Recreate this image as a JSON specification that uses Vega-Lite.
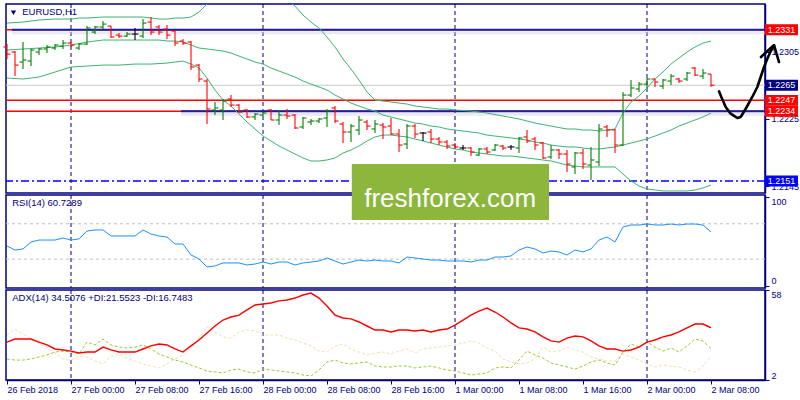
{
  "$schema": "https://vega.github.io/schema/vega-lite/v6.json",
  "background": "white",
  "padding": {"left": 2, "top": 2, "right": 0, "bottom": 0},
  "bounds": "flush",
  "spacing": 2,
  "config": {
    "view": {"stroke": "#000080", "strokeWidth": 1.5},
    "font": "Liberation Sans",
    "axis": {"labelFont": "Liberation Sans", "labelFontSize": 9, "labelColor": "#000080", "tickColor": "#000080", "domainColor": "#000080", "domainWidth": 1.5, "tickSize": 4, "labelPadding": 2, "grid": false, "labelOverlap": false, "labelFlush": false}
  },
  "resolve": {"scale": {"x": "independent", "y": "independent", "color": "independent"}},
  "datasets": {
    "bars": [
      {"i":0,"o":1.23105,"h":1.2314,"l":1.22962,"c":1.23021,"bu":1.2339,"bm":1.23069,"bl":1.22736,"rsi":44.9,"adx":25.6,"pdi":15.1,"mdi":30},
      {"i":1,"o":1.23045,"h":1.23057,"l":1.22759,"c":1.2289,"bu":1.23396,"bm":1.23075,"bl":1.2273,"rsi":40.3,"adx":27.5,"pdi":14.4,"mdi":33.7},
      {"i":2,"o":1.22926,"h":1.23164,"l":1.22843,"c":1.2295,"bu":1.23402,"bm":1.23081,"bl":1.22724,"rsi":41.5,"adx":27.5,"pdi":14.4,"mdi":30.6},
      {"i":3,"o":1.22938,"h":1.23081,"l":1.22878,"c":1.23069,"bu":1.23414,"bm":1.23087,"bl":1.22736,"rsi":49.4,"adx":27.5,"pdi":15.1,"mdi":27.5},
      {"i":4,"o":1.23045,"h":1.23093,"l":1.23009,"c":1.23081,"bu":1.23426,"bm":1.23093,"bl":1.22748,"rsi":51.6,"adx":25.6,"pdi":16.3,"mdi":24.4},
      {"i":5,"o":1.23081,"h":1.23128,"l":1.23033,"c":1.23105,"bu":1.23432,"bm":1.23099,"bl":1.22777,"rsi":51.6,"adx":23.8,"pdi":17.6,"mdi":22.5},
      {"i":6,"o":1.23093,"h":1.2314,"l":1.23069,"c":1.23128,"bu":1.23438,"bm":1.23105,"bl":1.22807,"rsi":51.6,"adx":21.3,"pdi":19.4,"mdi":18.8},
      {"i":7,"o":1.23116,"h":1.23188,"l":1.23081,"c":1.23152,"bu":1.23438,"bm":1.23116,"bl":1.22837,"rsi":53.9,"adx":20.7,"pdi":20,"mdi":15.1},
      {"i":8,"o":1.23152,"h":1.23164,"l":1.23105,"c":1.23128,"bu":1.23438,"bm":1.23128,"bl":1.22867,"rsi":51.6,"adx":20,"pdi":19.4,"mdi":14.4},
      {"i":9,"o":1.23093,"h":1.23152,"l":1.23069,"c":1.2314,"bu":1.2345,"bm":1.23146,"bl":1.22873,"rsi":52.8,"adx":18.8,"pdi":18.2,"mdi":16.9},
      {"i":10,"o":1.2314,"h":1.23354,"l":1.23128,"c":1.23331,"bu":1.2345,"bm":1.23164,"bl":1.22878,"rsi":61.8,"adx":19.4,"pdi":25.6,"mdi":16.3},
      {"i":11,"o":1.23283,"h":1.23354,"l":1.23259,"c":1.23343,"bu":1.23456,"bm":1.23176,"bl":1.22884,"rsi":63,"adx":19.4,"pdi":23.8,"mdi":13.8},
      {"i":12,"o":1.23343,"h":1.23414,"l":1.23319,"c":1.23378,"bu":1.23462,"bm":1.23188,"bl":1.2289,"rsi":63,"adx":22.5,"pdi":27.5,"mdi":12},
      {"i":13,"o":1.23354,"h":1.23354,"l":1.23212,"c":1.23224,"bu":1.23462,"bm":1.23188,"bl":1.2289,"rsi":56.2,"adx":20.7,"pdi":23.8,"mdi":16.9},
      {"i":14,"o":1.23247,"h":1.23271,"l":1.23212,"c":1.23235,"bu":1.23462,"bm":1.23188,"bl":1.2289,"rsi":56.2,"adx":19.4,"pdi":22.5,"mdi":18.2},
      {"i":15,"o":1.23235,"h":1.23283,"l":1.23224,"c":1.23259,"bu":1.23462,"bm":1.23188,"bl":1.22896,"rsi":56.2,"adx":19.4,"pdi":21.9,"mdi":15.7},
      {"i":16,"o":1.23259,"h":1.23331,"l":1.23188,"c":1.23259,"bu":1.23462,"bm":1.23188,"bl":1.22902,"rsi":56.2,"adx":19.4,"pdi":22.5,"mdi":13.8},
      {"i":17,"o":1.23235,"h":1.23438,"l":1.23212,"c":1.2339,"bu":1.23462,"bm":1.23188,"bl":1.22902,"rsi":63,"adx":21.3,"pdi":23.8,"mdi":12},
      {"i":18,"o":1.23402,"h":1.23462,"l":1.23247,"c":1.23283,"bu":1.2345,"bm":1.23188,"bl":1.22902,"rsi":58.4,"adx":23.2,"pdi":21.3,"mdi":10.7},
      {"i":19,"o":1.23343,"h":1.23366,"l":1.23247,"c":1.23283,"bu":1.23438,"bm":1.23188,"bl":1.22908,"rsi":56.2,"adx":24.4,"pdi":18.2,"mdi":9.5},
      {"i":20,"o":1.23319,"h":1.23366,"l":1.232,"c":1.23247,"bu":1.23438,"bm":1.23176,"bl":1.22914,"rsi":55,"adx":23.8,"pdi":16.3,"mdi":12},
      {"i":21,"o":1.23295,"h":1.23307,"l":1.23116,"c":1.23152,"bu":1.2345,"bm":1.23176,"bl":1.22926,"rsi":47.1,"adx":21.3,"pdi":14.4,"mdi":15.1},
      {"i":22,"o":1.23176,"h":1.232,"l":1.23128,"c":1.23152,"bu":1.2345,"bm":1.23164,"bl":1.22938,"rsi":47.1,"adx":19.4,"pdi":13.2,"mdi":17.6},
      {"i":23,"o":1.23164,"h":1.23176,"l":1.22831,"c":1.22867,"bu":1.23462,"bm":1.23128,"bl":1.22902,"rsi":34.7,"adx":23.2,"pdi":11.3,"mdi":21.9},
      {"i":24,"o":1.2289,"h":1.22902,"l":1.22688,"c":1.22724,"bu":1.23521,"bm":1.23093,"bl":1.22855,"rsi":30.2,"adx":26.9,"pdi":9.5,"mdi":28.1},
      {"i":25,"o":1.227,"h":1.22724,"l":1.22188,"c":1.22367,"bu":1.23616,"bm":1.23081,"bl":1.22736,"rsi":21.1,"adx":31.2,"pdi":7.6,"mdi":35},
      {"i":26,"o":1.22355,"h":1.2245,"l":1.22295,"c":1.22379,"bu":1.237,"bm":1.23069,"bl":1.22593,"rsi":22.3,"adx":35.6,"pdi":7,"mdi":31.9},
      {"i":27,"o":1.22355,"h":1.22486,"l":1.22236,"c":1.22462,"bu":1.23748,"bm":1.23057,"bl":1.22474,"rsi":25.7,"adx":39.3,"pdi":6.4,"mdi":28.8},
      {"i":28,"o":1.22486,"h":1.22533,"l":1.22391,"c":1.22414,"bu":1.23783,"bm":1.23033,"bl":1.22402,"rsi":25.7,"adx":41.2,"pdi":8.2,"mdi":28.1},
      {"i":29,"o":1.22414,"h":1.22426,"l":1.22319,"c":1.22331,"bu":1.23807,"bm":1.22997,"bl":1.22307,"rsi":25.7,"adx":42.4,"pdi":8.8,"mdi":31.9},
      {"i":30,"o":1.22355,"h":1.22367,"l":1.2226,"c":1.22272,"bu":1.23819,"bm":1.22962,"bl":1.22212,"rsi":23.4,"adx":45.6,"pdi":7,"mdi":33.1},
      {"i":31,"o":1.22272,"h":1.22319,"l":1.22236,"c":1.22307,"bu":1.23807,"bm":1.22926,"bl":1.22129,"rsi":24.5,"adx":48.7,"pdi":6.4,"mdi":32.5},
      {"i":32,"o":1.22295,"h":1.22331,"l":1.22283,"c":1.22319,"bu":1.23783,"bm":1.22902,"bl":1.22045,"rsi":26.8,"adx":49.3,"pdi":8.8,"mdi":30},
      {"i":33,"o":1.22355,"h":1.22367,"l":1.22236,"c":1.22236,"bu":1.23759,"bm":1.22855,"bl":1.21986,"rsi":24.5,"adx":49.9,"pdi":8.2,"mdi":30},
      {"i":34,"o":1.22236,"h":1.22355,"l":1.22176,"c":1.22295,"bu":1.23724,"bm":1.22819,"bl":1.21926,"rsi":26.8,"adx":51.2,"pdi":7.6,"mdi":30},
      {"i":35,"o":1.22295,"h":1.22367,"l":1.22248,"c":1.22283,"bu":1.23664,"bm":1.22783,"bl":1.21879,"rsi":26.8,"adx":51.8,"pdi":7,"mdi":28.1},
      {"i":36,"o":1.22295,"h":1.22307,"l":1.22129,"c":1.22141,"bu":1.23592,"bm":1.22748,"bl":1.21831,"rsi":23.4,"adx":53,"pdi":6.4,"mdi":26.9},
      {"i":37,"o":1.22153,"h":1.22272,"l":1.22129,"c":1.2226,"bu":1.23485,"bm":1.227,"bl":1.21784,"rsi":25.7,"adx":54.9,"pdi":5.1,"mdi":25},
      {"i":38,"o":1.22212,"h":1.22248,"l":1.22176,"c":1.22224,"bu":1.23402,"bm":1.22664,"bl":1.21748,"rsi":26.8,"adx":56.1,"pdi":4.5,"mdi":23.2},
      {"i":39,"o":1.22224,"h":1.2226,"l":1.222,"c":1.22248,"bu":1.23331,"bm":1.22629,"bl":1.21748,"rsi":27.9,"adx":53,"pdi":8.2,"mdi":20},
      {"i":40,"o":1.2226,"h":1.22367,"l":1.22153,"c":1.22343,"bu":1.23224,"bm":1.22593,"bl":1.2176,"rsi":31.3,"adx":48,"pdi":13.2,"mdi":19.4},
      {"i":41,"o":1.22379,"h":1.22402,"l":1.222,"c":1.22224,"bu":1.23105,"bm":1.22533,"bl":1.21784,"rsi":27.9,"adx":42.4,"pdi":14.4,"mdi":23.2},
      {"i":42,"o":1.22188,"h":1.22212,"l":1.21962,"c":1.22093,"bu":1.22962,"bm":1.22486,"bl":1.21843,"rsi":24.5,"adx":40.6,"pdi":12.6,"mdi":24.4},
      {"i":43,"o":1.22093,"h":1.22188,"l":1.21974,"c":1.22164,"bu":1.22843,"bm":1.22438,"bl":1.21879,"rsi":26.8,"adx":40,"pdi":12,"mdi":21.3},
      {"i":44,"o":1.22117,"h":1.22283,"l":1.22057,"c":1.22236,"bu":1.22712,"bm":1.22402,"bl":1.21926,"rsi":29,"adx":38.1,"pdi":12.6,"mdi":19.4},
      {"i":45,"o":1.22212,"h":1.22236,"l":1.22117,"c":1.22164,"bu":1.22569,"bm":1.22367,"bl":1.21986,"rsi":27.9,"adx":35.6,"pdi":13.2,"mdi":17.6},
      {"i":46,"o":1.22129,"h":1.22236,"l":1.22081,"c":1.22188,"bu":1.22474,"bm":1.22343,"bl":1.22034,"rsi":29,"adx":33.1,"pdi":10.7,"mdi":18.8},
      {"i":47,"o":1.22176,"h":1.222,"l":1.2201,"c":1.22153,"bu":1.22462,"bm":1.22295,"bl":1.22057,"rsi":27.9,"adx":33.1,"pdi":10.1,"mdi":19.4},
      {"i":48,"o":1.22164,"h":1.2226,"l":1.22057,"c":1.22069,"bu":1.2245,"bm":1.22272,"bl":1.22057,"rsi":27.9,"adx":31.9,"pdi":10.1,"mdi":18.2},
      {"i":49,"o":1.22069,"h":1.22129,"l":1.21855,"c":1.21938,"bu":1.22438,"bm":1.22248,"bl":1.22045,"rsi":25.7,"adx":33.1,"pdi":10.7,"mdi":20},
      {"i":50,"o":1.2195,"h":1.22188,"l":1.21891,"c":1.22164,"bu":1.22426,"bm":1.22224,"bl":1.22034,"rsi":32.4,"adx":33.1,"pdi":10.7,"mdi":21.3},
      {"i":51,"o":1.22164,"h":1.22188,"l":1.22022,"c":1.22069,"bu":1.22402,"bm":1.222,"bl":1.2201,"rsi":31.3,"adx":32.5,"pdi":9.5,"mdi":18.8},
      {"i":52,"o":1.22081,"h":1.22093,"l":1.21986,"c":1.22081,"bu":1.22391,"bm":1.22188,"bl":1.21986,"rsi":30.2,"adx":33.1,"pdi":10.1,"mdi":21.3},
      {"i":53,"o":1.22093,"h":1.22129,"l":1.21962,"c":1.2201,"bu":1.22379,"bm":1.22164,"bl":1.21962,"rsi":29,"adx":31.9,"pdi":10.7,"mdi":21.9},
      {"i":54,"o":1.2201,"h":1.22034,"l":1.21938,"c":1.21974,"bu":1.22367,"bm":1.22153,"bl":1.21938,"rsi":29,"adx":33.1,"pdi":9.5,"mdi":22.5},
      {"i":55,"o":1.21974,"h":1.21998,"l":1.21891,"c":1.21926,"bu":1.22367,"bm":1.22129,"bl":1.21915,"rsi":27.9,"adx":33.7,"pdi":8.2,"mdi":23.2},
      {"i":56,"o":1.21938,"h":1.21962,"l":1.21891,"c":1.21915,"bu":1.22355,"bm":1.22117,"bl":1.21891,"rsi":27.9,"adx":36.2,"pdi":7.6,"mdi":23.8},
      {"i":57,"o":1.21903,"h":1.21938,"l":1.21879,"c":1.21903,"bu":1.22349,"bm":1.22105,"bl":1.21879,"rsi":27.9,"adx":39.3,"pdi":6.4,"mdi":25},
      {"i":58,"o":1.21903,"h":1.21915,"l":1.21807,"c":1.21855,"bu":1.22343,"bm":1.22093,"bl":1.21855,"rsi":26.8,"adx":42.4,"pdi":5.1,"mdi":26.3},
      {"i":59,"o":1.21819,"h":1.21903,"l":1.21807,"c":1.21891,"bu":1.22331,"bm":1.22081,"bl":1.21843,"rsi":29,"adx":44.9,"pdi":5.7,"mdi":25},
      {"i":60,"o":1.21891,"h":1.21915,"l":1.21831,"c":1.21855,"bu":1.22319,"bm":1.22057,"bl":1.21831,"rsi":29,"adx":46.8,"pdi":6.4,"mdi":21.9},
      {"i":61,"o":1.21879,"h":1.2195,"l":1.21867,"c":1.21938,"bu":1.22301,"bm":1.22045,"bl":1.21819,"rsi":32.4,"adx":44.3,"pdi":9.5,"mdi":20},
      {"i":62,"o":1.21926,"h":1.21938,"l":1.21879,"c":1.21903,"bu":1.22283,"bm":1.22034,"bl":1.21807,"rsi":32.4,"adx":41.2,"pdi":10.1,"mdi":15.1},
      {"i":63,"o":1.21915,"h":1.21938,"l":1.21879,"c":1.21915,"bu":1.22266,"bm":1.22022,"bl":1.21807,"rsi":33.6,"adx":37.5,"pdi":9.5,"mdi":13.2},
      {"i":64,"o":1.21903,"h":1.22034,"l":1.21843,"c":1.22022,"bu":1.22248,"bm":1.2201,"bl":1.21796,"rsi":40.3,"adx":34.4,"pdi":14.4,"mdi":12},
      {"i":65,"o":1.22034,"h":1.22117,"l":1.21962,"c":1.21986,"bu":1.22224,"bm":1.21998,"bl":1.21784,"rsi":43.7,"adx":33.7,"pdi":20,"mdi":12.6},
      {"i":66,"o":1.2201,"h":1.22034,"l":1.21879,"c":1.21938,"bu":1.222,"bm":1.21974,"bl":1.21772,"rsi":41.5,"adx":31.9,"pdi":17.6,"mdi":15.1},
      {"i":67,"o":1.21962,"h":1.21974,"l":1.21772,"c":1.21784,"bu":1.22182,"bm":1.21962,"bl":1.2176,"rsi":37,"adx":28.8,"pdi":15.7,"mdi":22.5},
      {"i":68,"o":1.21796,"h":1.21938,"l":1.21772,"c":1.21879,"bu":1.22164,"bm":1.21938,"bl":1.21748,"rsi":39.2,"adx":26.3,"pdi":12.6,"mdi":19.4},
      {"i":69,"o":1.21879,"h":1.21891,"l":1.21772,"c":1.21831,"bu":1.22146,"bm":1.21926,"bl":1.21724,"rsi":38.1,"adx":25.6,"pdi":11.3,"mdi":20},
      {"i":70,"o":1.21831,"h":1.21879,"l":1.21617,"c":1.21712,"bu":1.22129,"bm":1.21915,"bl":1.217,"rsi":34.7,"adx":28.1,"pdi":10.1,"mdi":22.5},
      {"i":71,"o":1.21677,"h":1.21855,"l":1.21593,"c":1.21843,"bu":1.22129,"bm":1.21915,"bl":1.21688,"rsi":40.3,"adx":29.4,"pdi":8.8,"mdi":20.7},
      {"i":72,"o":1.21843,"h":1.21891,"l":1.21653,"c":1.21712,"bu":1.22117,"bm":1.21903,"bl":1.21677,"rsi":38.1,"adx":28.8,"pdi":10.7,"mdi":19.4},
      {"i":73,"o":1.217,"h":1.21915,"l":1.21522,"c":1.2176,"bu":1.22117,"bm":1.21891,"bl":1.21677,"rsi":41.5,"adx":26.3,"pdi":13.2,"mdi":16.3},
      {"i":74,"o":1.21736,"h":1.22188,"l":1.21688,"c":1.22129,"bu":1.22105,"bm":1.21891,"bl":1.21677,"rsi":51.6,"adx":23.2,"pdi":14.4,"mdi":15.1},
      {"i":75,"o":1.22153,"h":1.22176,"l":1.22034,"c":1.22117,"bu":1.22117,"bm":1.21903,"bl":1.21677,"rsi":55,"adx":21.3,"pdi":12.6,"mdi":13.8},
      {"i":76,"o":1.22117,"h":1.22129,"l":1.21843,"c":1.21938,"bu":1.22129,"bm":1.21915,"bl":1.21677,"rsi":49.4,"adx":21.3,"pdi":11.3,"mdi":13.8},
      {"i":77,"o":1.21938,"h":1.22569,"l":1.21926,"c":1.22533,"bu":1.22319,"bm":1.21938,"bl":1.21593,"rsi":66.3,"adx":20,"pdi":19.4,"mdi":18.2},
      {"i":78,"o":1.22533,"h":1.22712,"l":1.2251,"c":1.22617,"bu":1.2245,"bm":1.21962,"bl":1.2151,"rsi":68.6,"adx":20.7,"pdi":24.4,"mdi":16.3},
      {"i":79,"o":1.22605,"h":1.22688,"l":1.22569,"c":1.22664,"bu":1.22521,"bm":1.21986,"bl":1.2145,"rsi":68.6,"adx":22.5,"pdi":22.5,"mdi":14.4},
      {"i":80,"o":1.22664,"h":1.22736,"l":1.22617,"c":1.22724,"bu":1.22617,"bm":1.2201,"bl":1.21415,"rsi":69.7,"adx":25.6,"pdi":25.6,"mdi":12},
      {"i":81,"o":1.22724,"h":1.22724,"l":1.22629,"c":1.22688,"bu":1.22724,"bm":1.22045,"bl":1.21403,"rsi":68.6,"adx":26.9,"pdi":22.5,"mdi":10.1},
      {"i":82,"o":1.2264,"h":1.22724,"l":1.22605,"c":1.22712,"bu":1.22807,"bm":1.22081,"bl":1.21391,"rsi":68.6,"adx":28.8,"pdi":20,"mdi":11.3},
      {"i":83,"o":1.227,"h":1.22783,"l":1.22652,"c":1.22759,"bu":1.22902,"bm":1.22117,"bl":1.21391,"rsi":69.7,"adx":30,"pdi":21.9,"mdi":10.7},
      {"i":84,"o":1.22724,"h":1.22736,"l":1.22676,"c":1.227,"bu":1.22974,"bm":1.22164,"bl":1.21391,"rsi":68.6,"adx":31.9,"pdi":19.4,"mdi":10.1},
      {"i":85,"o":1.22724,"h":1.22807,"l":1.227,"c":1.22795,"bu":1.23045,"bm":1.222,"bl":1.21391,"rsi":69.7,"adx":34.4,"pdi":23.2,"mdi":8.2},
      {"i":86,"o":1.22855,"h":1.22867,"l":1.22759,"c":1.22771,"bu":1.23105,"bm":1.22236,"bl":1.21403,"rsi":69.7,"adx":36.8,"pdi":27.5,"mdi":7},
      {"i":87,"o":1.22759,"h":1.22843,"l":1.22724,"c":1.22795,"bu":1.23152,"bm":1.22272,"bl":1.21427,"rsi":68.6,"adx":36.8,"pdi":26.3,"mdi":10.7},
      {"i":88,"o":1.22783,"h":1.22783,"l":1.22629,"c":1.2265,"bu":1.23176,"bm":1.22319,"bl":1.21462,"rsi":60.73,"adx":34.51,"pdi":21.55,"mdi":16.75}
    ],
    "seps": [{"i": 8}, {"i": 32}, {"i": 56}, {"i": 80}],
    "tags": [
      {"p": 1.2331, "k": "level"},
      {"p": 1.2265, "k": "bid"},
      {"p": 1.2247, "k": "level"},
      {"p": 1.2234, "k": "level"},
      {"p": 1.2151, "k": "alert"}
    ],
    "arrow": [
      {"part": "curve", "s": 0, "i": 89.0, "p": 1.22577},
      {"part": "curve", "s": 1, "i": 89.29, "p": 1.2251},
      {"part": "curve", "s": 2, "i": 89.84, "p": 1.22391},
      {"part": "curve", "s": 3, "i": 90.46, "p": 1.22311},
      {"part": "curve", "s": 4, "i": 91.29, "p": 1.2226},
      {"part": "curve", "s": 5, "i": 91.71, "p": 1.22272},
      {"part": "curve", "s": 6, "i": 92.34, "p": 1.2237},
      {"part": "curve", "s": 7, "i": 93.16, "p": 1.2251},
      {"part": "curve", "s": 8, "i": 93.79, "p": 1.22629},
      {"part": "curve", "s": 9, "i": 94.21, "p": 1.22748},
      {"part": "curve", "s": 10, "i": 94.63, "p": 1.22867},
      {"part": "curve", "s": 11, "i": 95.04, "p": 1.22966},
      {"part": "curve", "s": 12, "i": 95.46, "p": 1.23054},
      {"part": "curve", "s": 13, "i": 95.88, "p": 1.23125},
      {"part": "head", "s": 0, "i": 94.25, "p": 1.22986},
      {"part": "head", "s": 1, "i": 95.88, "p": 1.23128},
      {"part": "head", "s": 2, "i": 96.5, "p": 1.22926}
    ]
  },
  "vconcat": [
    {
      "width": 759,
      "height": 189,
      "layer": [
        {
          "data": {"values": [{}]},
          "mark": {"type": "rule", "color": "#c8c8c8", "strokeWidth": 1},
          "encoding": {"y": {"datum": 1.2265, "type": "quantitative", "scale": {"domain": [1.21367, 1.23617], "nice": false, "zero": false}, "title": null}}
        },
        {
          "data": {"name": "seps"},
          "mark": {"type": "rule", "color": "#000080", "strokeDash": [4, 3], "strokeWidth": 1},
          "encoding": {"x": {"field": "i", "type": "quantitative", "scale": {"domain": [-0.125, 94.75], "nice": false, "zero": false}, "axis": null}}
        },
        {
          "data": {"values": [{"p": 1.2331, "a": 0.6}, {"p": 1.2234, "a": 21.75}]},
          "mark": {"type": "rule", "color": "#d0d0d0", "strokeWidth": 3, "opacity": 0.45, "yOffset": 3},
          "encoding": {
            "x": {"field": "a", "type": "quantitative", "scale": {"domain": [-0.125, 94.75], "nice": false, "zero": false}, "axis": null},
            "x2": {"datum": 94.75},
            "y": {"field": "p", "type": "quantitative", "title": null}
          }
        },
        {
          "data": {"values": [{"p": 1.2331}, {"p": 1.2247}, {"p": 1.2234}]},
          "mark": {"type": "rule", "color": "#ff0000", "strokeWidth": 1.5},
          "encoding": {"y": {"field": "p", "type": "quantitative", "title": null}}
        },
        {
          "data": {"values": [{"p": 1.2331, "a": 0.6}, {"p": 1.2234, "a": 21.75}]},
          "mark": {"type": "rule", "color": "#1c1ca0", "strokeWidth": 2},
          "encoding": {
            "x": {"field": "a", "type": "quantitative", "scale": {"domain": [-0.125, 94.75], "nice": false, "zero": false}, "axis": null},
            "x2": {"datum": 94.75},
            "y": {"field": "p", "type": "quantitative", "title": null}
          }
        },
        {
          "data": {"values": [{}]},
          "mark": {"type": "rule", "color": "#0000ff", "strokeWidth": 1.5, "strokeDash": [8, 3, 2, 3]},
          "encoding": {"y": {"datum": 1.2151, "type": "quantitative", "title": null}}
        },
        {
          "data": {"name": "bars"},
          "mark": {"type": "line", "color": "#3cb371", "strokeWidth": 1, "clip": true},
          "encoding": {
            "x": {"field": "i", "type": "quantitative", "scale": {"domain": [-0.125, 94.75], "nice": false, "zero": false}, "axis": null},
            "y": {"field": "bu", "type": "quantitative", "title": null}
          }
        },
        {
          "data": {"name": "bars"},
          "mark": {"type": "line", "color": "#3cb371", "strokeWidth": 1, "clip": true},
          "encoding": {
            "x": {"field": "i", "type": "quantitative", "scale": {"domain": [-0.125, 94.75], "nice": false, "zero": false}, "axis": null},
            "y": {"field": "bm", "type": "quantitative", "title": null}
          }
        },
        {
          "data": {"name": "bars"},
          "mark": {"type": "line", "color": "#3cb371", "strokeWidth": 1, "clip": true},
          "encoding": {
            "x": {"field": "i", "type": "quantitative", "scale": {"domain": [-0.125, 94.75], "nice": false, "zero": false}, "axis": null},
            "y": {"field": "bl", "type": "quantitative", "title": null}
          }
        },
        {
          "data": {"name": "bars"},
          "mark": {"type": "rule", "strokeWidth": 1.1},
          "encoding": {
            "x": {"field": "i", "type": "quantitative", "scale": {"domain": [-0.125, 94.75], "nice": false, "zero": false}, "axis": null},
            "y": {"field": "h", "type": "quantitative", "title": null, "axis": {"orient": "right", "values": [1.2345, 1.2305, 1.2265, 1.2225, 1.2185, 1.2145], "format": ".4f"}},
            "y2": {"field": "l"},
            "color": {"condition": [{"test": "datum.c > datum.o", "value": "#008000"}, {"test": "datum.c < datum.o", "value": "#ff0000"}], "value": "#000000"}
          }
        },
        {
          "data": {"name": "bars"},
          "mark": {"type": "rule", "strokeWidth": 1.1, "xOffset": -3.5, "x2Offset": 0},
          "encoding": {
            "x": {"field": "i", "type": "quantitative", "scale": {"domain": [-0.125, 94.75], "nice": false, "zero": false}, "axis": null},
            "x2": {"field": "i"},
            "y": {"field": "o", "type": "quantitative", "title": null},
            "color": {"condition": [{"test": "datum.c > datum.o", "value": "#008000"}, {"test": "datum.c < datum.o", "value": "#ff0000"}], "value": "#000000"}
          }
        },
        {
          "data": {"name": "bars"},
          "mark": {"type": "rule", "strokeWidth": 1.1, "xOffset": 0, "x2Offset": 3.5},
          "encoding": {
            "x": {"field": "i", "type": "quantitative", "scale": {"domain": [-0.125, 94.75], "nice": false, "zero": false}, "axis": null},
            "x2": {"field": "i"},
            "y": {"field": "c", "type": "quantitative", "title": null},
            "color": {"condition": [{"test": "datum.c > datum.o", "value": "#008000"}, {"test": "datum.c < datum.o", "value": "#ff0000"}], "value": "#000000"}
          }
        },
        {
          "data": {"values": [{}]},
          "mark": {"type": "point", "shape": "triangle-down", "size": 28, "filled": true, "color": "#000080", "opacity": 1},
          "encoding": {
            "x": {"datum": 0.81, "type": "quantitative", "scale": {"domain": [-0.125, 94.75], "nice": false, "zero": false}, "axis": null},
            "y": {"datum": 1.23512, "type": "quantitative", "title": null}
          }
        },
        {
          "data": {"values": [{"s": "EURUSD,H1"}]},
          "mark": {"type": "text", "align": "left", "baseline": "middle", "font": "Liberation Sans", "fontSize": 9.5, "color": "#000080"},
          "encoding": {
            "x": {"datum": 1.9, "type": "quantitative", "scale": {"domain": [-0.125, 94.75], "nice": false, "zero": false}, "axis": null},
            "y": {"datum": 1.23521, "type": "quantitative", "title": null},
            "text": {"field": "s"}
          }
        },
        {
          "data": {"name": "tags"},
          "mark": {"type": "point", "shape": "M-1,-0.33L1,-0.33L1,0.33L-1,0.33Z", "size": 1089, "filled": true, "opacity": 1, "strokeWidth": 0, "clip": false},
          "encoding": {
            "x": {"datum": 96.81, "type": "quantitative", "scale": {"domain": [-0.125, 94.75], "nice": false, "zero": false}, "axis": null},
            "y": {"field": "p", "type": "quantitative", "title": null},
            "color": {"field": "k", "type": "nominal", "scale": {"domain": ["level", "bid", "alert"], "range": ["#ff0000", "#000080", "#0000ff"]}, "legend": null}
          }
        },
        {
          "data": {"name": "tags"},
          "mark": {"type": "text", "align": "center", "baseline": "middle", "font": "Liberation Sans", "fontSize": 9, "color": "#ffffff", "clip": false},
          "encoding": {
            "x": {"datum": 96.81, "type": "quantitative", "scale": {"domain": [-0.125, 94.75], "nice": false, "zero": false}, "axis": null},
            "y": {"field": "p", "type": "quantitative", "title": null},
            "text": {"field": "p", "type": "quantitative", "format": ".4f"}
          }
        },
        {
          "data": {"name": "arrow"},
          "mark": {"type": "line", "color": "#000000", "strokeWidth": 2.6, "strokeCap": "round", "strokeJoin": "round", "clip": false},
          "encoding": {
            "x": {"field": "i", "type": "quantitative", "scale": {"domain": [-0.125, 94.75], "nice": false, "zero": false}, "axis": null},
            "y": {"field": "p", "type": "quantitative", "title": null},
            "detail": {"field": "part"},
            "order": {"field": "s"}
          }
        }
      ]
    },
    {
      "width": 759,
      "height": 93,
      "layer": [
        {
          "data": {"values": [{"v": 70}, {"v": 30}]},
          "mark": {"type": "rule", "color": "#c0c0c0", "strokeDash": [3, 3], "strokeWidth": 1},
          "encoding": {"y": {"field": "v", "type": "quantitative", "title": null, "scale": {"domain": [-2.6, 102.5], "nice": false, "zero": false}, "axis": {"orient": "right", "values": [100, 70, 30, 0], "labelBaseline": {"condition": {"test": "datum.value == 100", "value": "top"}, "value": "middle"}, "labelOffset": {"condition": {"test": "datum.value == 0", "value": -5}, "value": 0}}}}
        },
        {
          "data": {"name": "seps"},
          "mark": {"type": "rule", "color": "#000080", "strokeDash": [4, 3], "strokeWidth": 1},
          "encoding": {"x": {"field": "i", "type": "quantitative", "scale": {"domain": [-0.125, 94.75], "nice": false, "zero": false}, "axis": null}}
        },
        {
          "data": {"name": "bars"},
          "mark": {"type": "line", "color": "#1e90ff", "strokeWidth": 1},
          "encoding": {
            "x": {"field": "i", "type": "quantitative", "scale": {"domain": [-0.125, 94.75], "nice": false, "zero": false}, "axis": null},
            "y": {"field": "rsi", "type": "quantitative", "title": null}
          }
        },
        {
          "data": {"values": [{"s": "RSI(14) 60.7289"}]},
          "mark": {"type": "text", "align": "left", "baseline": "middle", "font": "Liberation Sans", "fontSize": 9.5, "color": "#000080"},
          "encoding": {
            "x": {"datum": 0.65, "type": "quantitative", "scale": {"domain": [-0.125, 94.75], "nice": false, "zero": false}, "axis": null},
            "y": {"datum": 93.5, "type": "quantitative", "title": null},
            "text": {"field": "s"}
          }
        },
        {
          "data": {"values": [{}]},
          "mark": {"type": "rect", "color": "#8cb63c", "opacity": 1, "clip": false},
          "encoding": {
            "x": {"datum": 43.1, "type": "quantitative", "scale": {"domain": [-0.125, 94.75], "nice": false, "zero": false}, "axis": null},
            "x2": {"datum": 67.75},
            "y": {"datum": 137.5, "type": "quantitative", "title": null},
            "y2": {"datum": 74.25}
          }
        },
        {
          "data": {"values": [{"s": "freshforex.com"}]},
          "mark": {"type": "text", "align": "center", "baseline": "middle", "font": "Liberation Sans", "fontSize": 26, "color": "#ffffff", "clip": false},
          "encoding": {
            "x": {"datum": 55.4, "type": "quantitative", "scale": {"domain": [-0.125, 94.75], "nice": false, "zero": false}, "axis": null},
            "y": {"datum": 98, "type": "quantitative", "title": null},
            "text": {"field": "s"}
          }
        }
      ]
    },
    {
      "width": 759,
      "height": 90,
      "layer": [
        {
          "data": {"name": "seps"},
          "mark": {"type": "rule", "color": "#000080", "strokeDash": [4, 3], "strokeWidth": 1},
          "encoding": {"x": {"field": "i", "type": "quantitative", "scale": {"domain": [-0.125, 94.75], "nice": false, "zero": false}, "title": null, "axis": {"orient": "bottom", "values": [0, 8, 16, 24, 32, 40, 48, 56, 64, 72, 80, 88], "labelAlign": "left", "labelPadding": 1, "labelExpr": "['26 Feb 2018','27 Feb 00:00','27 Feb 08:00','27 Feb 16:00','28 Feb 00:00','28 Feb 08:00','28 Feb 16:00','1 Mar 00:00','1 Mar 08:00','1 Mar 16:00','2 Mar 00:00','2 Mar 08:00'][round(datum.value/8)]"}}}
        },
        {
          "data": {"name": "bars"},
          "mark": {"type": "line", "color": "#f5deb3", "strokeWidth": 1, "strokeDash": [3, 2]},
          "encoding": {
            "x": {"field": "i", "type": "quantitative", "title": null},
            "y": {"field": "mdi", "type": "quantitative", "title": null, "scale": {"domain": [2, 58], "nice": false, "zero": false}, "axis": {"orient": "right", "values": [58, 2], "labelBaseline": {"condition": {"test": "datum.value == 58", "value": "top"}, "value": "bottom"}}}
          }
        },
        {
          "data": {"name": "bars"},
          "mark": {"type": "line", "color": "#9acd32", "strokeWidth": 1, "strokeDash": [3, 2]},
          "encoding": {
            "x": {"field": "i", "type": "quantitative", "title": null},
            "y": {"field": "pdi", "type": "quantitative", "title": null}
          }
        },
        {
          "data": {"name": "bars"},
          "mark": {"type": "line", "color": "#ff0000", "strokeWidth": 1.4},
          "encoding": {
            "x": {"field": "i", "type": "quantitative", "title": null},
            "y": {"field": "adx", "type": "quantitative", "title": null}
          }
        },
        {
          "data": {"values": [{"s": "ADX(14) 34.5076 +DI:21.5523 -DI:16.7483"}]},
          "mark": {"type": "text", "align": "left", "baseline": "middle", "font": "Liberation Sans", "fontSize": 9.5, "color": "#000080"},
          "encoding": {
            "x": {"datum": 0.65, "type": "quantitative", "title": null},
            "y": {"datum": 53, "type": "quantitative", "title": null},
            "text": {"field": "s"}
          }
        }
      ]
    }
  ]
}
